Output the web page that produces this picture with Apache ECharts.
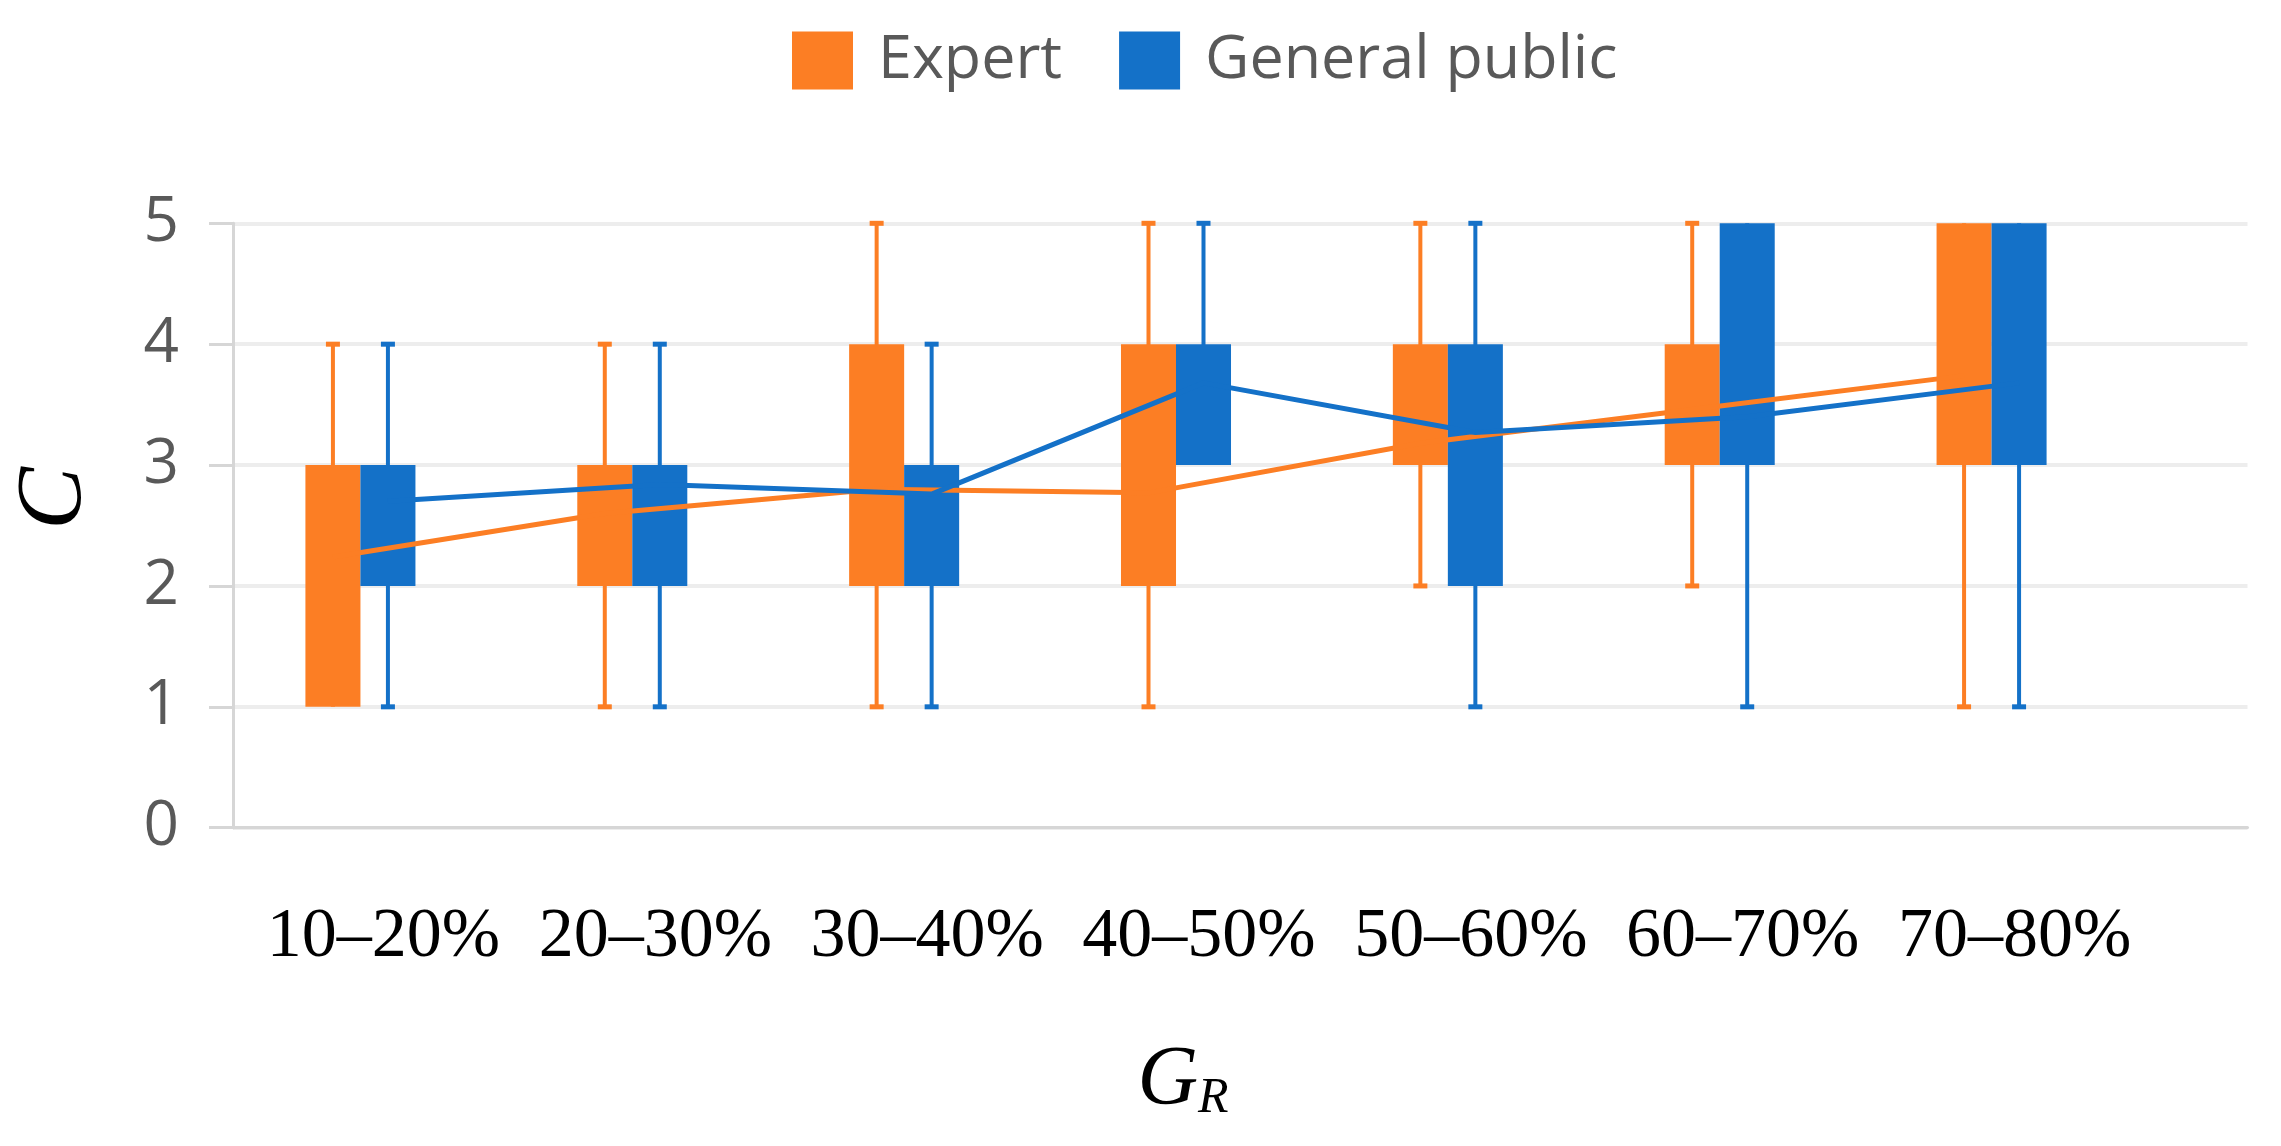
<!DOCTYPE html>
<html>
<head>
<meta charset="utf-8">
<script src="https://cdn.jsdelivr.net/npm/echarts@6/dist/echarts.min.js"></script>
<style>
  html, body { margin: 0; padding: 0; background: #ffffff; }
  #chart { width: 2281px; height: 1146px; }
</style>
</head>
<body>
<div id="chart"></div>
<script>
// ---------------- data ----------------
const categories = ['10–20%', '20–30%', '30–40%', '40–50%', '50–60%', '60–70%', '70–80%'];
const yTicks = [0, 1, 2, 3, 4, 5];

const expertMin  = [1, 1, 1, 1, 2, 2, 1];
const expertQ1   = [1, 2, 2, 2, 3, 3, 3];
const expertQ3   = [3, 3, 4, 4, 4, 4, 5];
const expertMax  = [4, 4, 5, 5, 5, 5, 5];
const expertMean = [2.24, 2.60, 2.80, 2.77, 3.18, 3.46, 3.74];

const publicMin  = [1, 1, 1, 3, 1, 1, 1];
const publicQ1   = [2, 2, 2, 3, 2, 3, 3];
const publicQ3   = [3, 3, 3, 4, 4, 5, 5];
const publicMax  = [4, 4, 4, 5, 5, 5, 5];
const publicMean = [2.70, 2.84, 2.76, 3.68, 3.27, 3.40, 3.68];

// ---------------- style ----------------
const ORANGE = '#FC7E24';
const BLUE = '#1471C8';
const GRAY_TEXT = '#595959';
const AXIS_GRAY = '#D6D6D6';
const SPLIT_GRAY = '#EDEDED';

const PLOT_TOP = 223.3;
const PLOT_BOTTOM = 1146 - 827.7;
const AXIS_LEFT = 227;
const FULL_RIGHT = 2281 - 2247.5;
const BOX_LEFT = 224.5;
const BOX_WIDTH_PX = 1903;
const PAIR_OFFSET_PX = 27.5;
const BOX_FRAC = 0.2024;
const OFFSET_FRAC = PAIR_OFFSET_PX / (BOX_WIDTH_PX / categories.length);

function boxData(mins, q1s, q3s, maxs) {
  return categories.map((c, i) => [i, mins[i], q1s[i], q3s[i], maxs[i]]);
}

function makeRenderer(offsetFrac, color) {
  return function (params, api) {
    const i = api.value(0);
    const mn = api.value(1), q1 = api.value(2), q3 = api.value(3), mx = api.value(4);
    const band = api.size([1, 0])[0];
    const cx = api.coord([i, 0])[0] + offsetFrac * band;
    const bw = band * BOX_FRAC;
    const yMin = api.coord([i, mn])[1];
    const yQ1 = api.coord([i, q1])[1];
    const yQ3 = api.coord([i, q3])[1];
    const yMax = api.coord([i, mx])[1];
    const children = [
      { type: 'line', shape: { x1: cx, y1: yMin, x2: cx, y2: yMax },
        style: { stroke: color, lineWidth: 4 } }
    ];
    if (mx > q3) children.push({ type: 'rect', shape: { x: cx - 7, y: yMax - 2.5, width: 14, height: 5 }, style: { fill: color } });
    if (mn < q1) children.push({ type: 'rect', shape: { x: cx - 7, y: yMin - 2.5, width: 14, height: 5 }, style: { fill: color } });
    children.push({ type: 'rect', shape: { x: cx - bw / 2, y: yQ3, width: bw, height: yQ1 - yQ3 }, style: { fill: color } });
    return { type: 'group', children: children };
  };
}

const chart = echarts.init(document.getElementById('chart'), null, { renderer: 'canvas' });

const hiddenCat = (gi) => ({
  type: 'category', gridIndex: gi, data: categories,
  axisLine: { show: false }, axisTick: { show: false }, axisLabel: { show: false }, splitLine: { show: false }
});
const hiddenVal = (gi) => ({
  type: 'value', gridIndex: gi, min: yTicks[0], max: yTicks[yTicks.length - 1], interval: 1,
  axisLine: { show: false }, axisTick: { show: false }, axisLabel: { show: false }, splitLine: { show: false }
});

const option = {
  animation: false,
  backgroundColor: '#ffffff',
  legend: {
    left: 787, top: 25,
    itemWidth: 61, itemHeight: 58, itemGap: 57,
    textStyle: { fontFamily: 'Open Sans', fontSize: 61, color: GRAY_TEXT, padding: [0, 0, 0, 20] },
    data: [
      { name: 'Expert', icon: 'rect', itemStyle: { color: ORANGE } },
      { name: 'General public', icon: 'rect', itemStyle: { color: BLUE } }
    ]
  },
  grid: [
    { left: AXIS_LEFT, right: FULL_RIGHT, top: PLOT_TOP, bottom: PLOT_BOTTOM },
    { left: BOX_LEFT, width: BOX_WIDTH_PX, top: PLOT_TOP, bottom: PLOT_BOTTOM },
    { left: BOX_LEFT - PAIR_OFFSET_PX, width: BOX_WIDTH_PX, top: PLOT_TOP, bottom: PLOT_BOTTOM },
    { left: BOX_LEFT + PAIR_OFFSET_PX, width: BOX_WIDTH_PX, top: PLOT_TOP, bottom: PLOT_BOTTOM }
  ],
  xAxis: [
    { type: 'value', gridIndex: 0, min: 0, max: 1,
      axisLine: { show: true, lineStyle: { color: AXIS_GRAY, width: 3 } },
      axisTick: { show: false }, axisLabel: { show: false }, splitLine: { show: false } },
    { type: 'category', gridIndex: 1, data: categories,
      axisLine: { show: false }, axisTick: { show: false }, splitLine: { show: false },
      axisLabel: { interval: 0, fontFamily: 'Liberation Serif', fontSize: 70, color: '#000', margin: 75, padding: [0, 0, 0, 46] },
      name: '{g|G}{r|R}', nameLocation: 'middle', nameGap: 212,
      nameTextStyle: {
        padding: [0, 0, 0, 14],
        rich: {
          g: { fontFamily: 'Liberation Serif', fontStyle: 'italic', fontSize: 84, lineHeight: 84, verticalAlign: 'bottom', color: '#000' },
          r: { fontFamily: 'Liberation Serif', fontStyle: 'italic', fontSize: 50, lineHeight: 50, verticalAlign: 'bottom', color: '#000' }
        }
      } },
    hiddenCat(2),
    hiddenCat(3)
  ],
  yAxis: [
    { type: 'value', gridIndex: 0, min: yTicks[0], max: yTicks[yTicks.length - 1], interval: 1,
      axisLine: { show: true, lineStyle: { color: AXIS_GRAY, width: 3 } },
      axisTick: { show: true, length: 24, lineStyle: { color: AXIS_GRAY, width: 3 } },
      axisLabel: { fontFamily: 'Open Sans', fontSize: 62, color: GRAY_TEXT, margin: 54 },
      splitLine: { show: true, lineStyle: { color: SPLIT_GRAY, width: 4 } },
      name: 'C', nameLocation: 'middle', nameRotate: 90, nameGap: 131,
      nameTextStyle: { fontFamily: 'Liberation Serif', fontStyle: 'italic', fontSize: 94, color: '#000', padding: [0, 0, 0, 54] } },
    hiddenVal(1),
    hiddenVal(2),
    hiddenVal(3)
  ],
  series: [
    { name: 'Expert', type: 'custom', xAxisIndex: 1, yAxisIndex: 1,
      itemStyle: { color: ORANGE },
      renderItem: makeRenderer(-OFFSET_FRAC, ORANGE),
      encode: { x: 0, y: [1, 2, 3, 4] },
      data: boxData(expertMin, expertQ1, expertQ3, expertMax) },
    { name: 'Expert mean', type: 'line', xAxisIndex: 2, yAxisIndex: 2,
      data: expertMean, symbol: 'none', lineStyle: { color: ORANGE, width: 5 }, itemStyle: { color: ORANGE } },
    { name: 'General public', type: 'custom', xAxisIndex: 1, yAxisIndex: 1,
      itemStyle: { color: BLUE },
      renderItem: makeRenderer(OFFSET_FRAC, BLUE),
      encode: { x: 0, y: [1, 2, 3, 4] },
      data: boxData(publicMin, publicQ1, publicQ3, publicMax) },
    { name: 'General public mean', type: 'line', xAxisIndex: 3, yAxisIndex: 3,
      data: publicMean, symbol: 'none', lineStyle: { color: BLUE, width: 5 }, itemStyle: { color: BLUE } }
  ]
};

chart.setOption(option);
</script>
</body>
</html>
